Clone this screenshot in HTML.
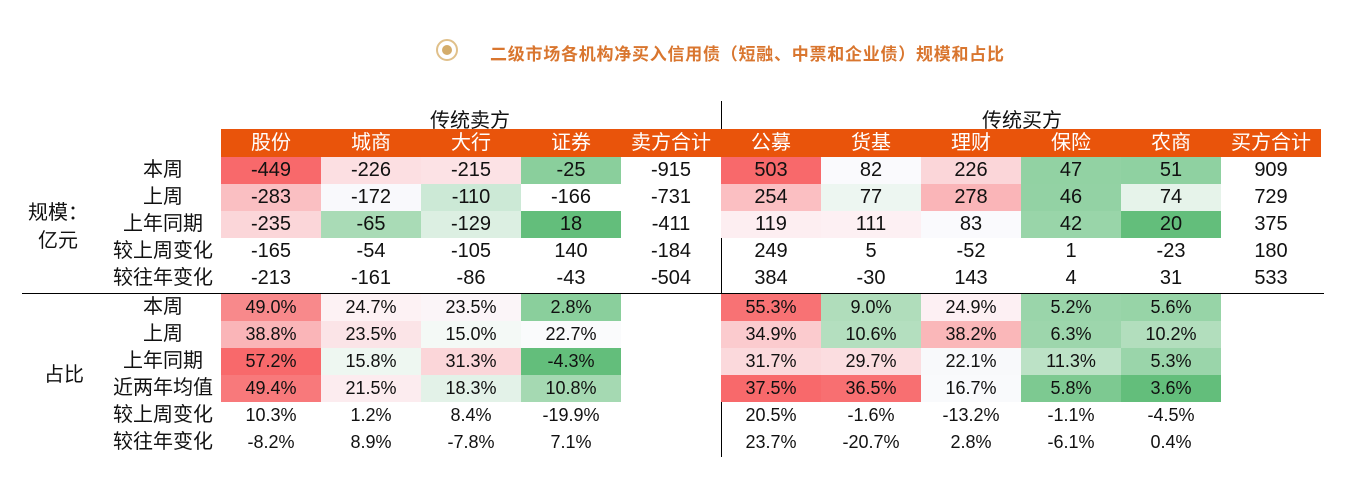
<!DOCTYPE html>
<html><head><meta charset="utf-8"><style>
body{margin:0;width:1359px;height:486px;background:#fff;position:relative;overflow:hidden;font-family:"Liberation Sans","Noto Sans CJK SC",sans-serif;color:#111}
.title{position:absolute;left:490px;top:40px;font-size:17px;letter-spacing:0.75px;font-weight:bold;color:#d9762f;white-space:nowrap}
.icon{position:absolute;left:436px;top:39px;width:22px;height:22px;border-radius:50%;border:2px solid #e0c08a;box-sizing:border-box}
.icon:after{content:"";position:absolute;left:4px;top:4px;width:10px;height:10px;border-radius:50%;background:#d4ac6a}
table{position:absolute;left:105px;border-collapse:collapse;table-layout:fixed}
td{padding:0;height:27px;text-align:center;font-size:20px;white-space:nowrap;line-height:27px}
td.l{width:116px}
td.c{width:100px}
tr.h td{background:#e9540b;color:#fff;height:28px;font-size:20px}
tr.h td.l,tr.h td.e{background:#fff}
.pct td{font-size:18px}
.grp{position:absolute;font-size:20px;text-align:center;line-height:28px}
.sub{position:absolute;top:104px;font-size:20px}
</style></head><body>
<div class="icon"></div>
<div class="title">二级市场各机构净买入信用债（短融、中票和企业债）规模和占比</div>
<div class="sub" style="left:430px">传统卖方</div>
<div class="sub" style="left:982px">传统买方</div>
<div style="position:absolute;left:721px;top:101px;width:1px;height:356px;background:#000"></div>
<div style="position:absolute;left:22px;top:293px;width:1302px;height:1px;background:#000"></div>
<div class="grp" style="left:28px;top:199px">规模：<br>亿元</div>
<div class="grp" style="left:44px;top:361px">占比</div>
<table style="top:129px">
<tr class="h"><td class="l"></td><td class="c">股份</td><td class="c">城商</td><td class="c">大行</td><td class="c">证券</td><td class="c">卖方合计</td><td class="c">公募</td><td class="c">货基</td><td class="c">理财</td><td class="c">保险</td><td class="c">农商</td><td class="c">买方合计</td></tr>
<tr><td>本周</td><td style="background:#f8696b">-449</td><td style="background:#fcdfe2">-226</td><td style="background:#fce2e5">-215</td><td style="background:#8acf9c">-25</td><td>-915</td><td style="background:#f8696b">503</td><td style="background:#fafafd">82</td><td style="background:#fbd6d9">226</td><td style="background:#92d2a3">47</td><td style="background:#8fd1a1">51</td><td>909</td></tr>
<tr><td>上周</td><td style="background:#fabfc2">-283</td><td style="background:#f9f9fc">-172</td><td style="background:#cce9d6">-110</td><td>-166</td><td>-731</td><td style="background:#fbbfc2">254</td><td style="background:#edf6f1">77</td><td style="background:#fab5b8">278</td><td style="background:#93d2a4">46</td><td style="background:#e6f3ea">74</td><td>729</td></tr>
<tr><td>上年同期</td><td style="background:#fbd6d9">-235</td><td style="background:#a9dbb6">-65</td><td style="background:#dcefe2">-129</td><td style="background:#63be7b">18</td><td>-411</td><td style="background:#fdeef1">119</td><td style="background:#fdf0f3">111</td><td style="background:#fafafd">83</td><td style="background:#99d5a9">42</td><td style="background:#63be7b">20</td><td>375</td></tr>
<tr><td>较上周变化</td><td>-165</td><td>-54</td><td>-105</td><td>140</td><td>-184</td><td>249</td><td>5</td><td>-52</td><td>1</td><td>-23</td><td>180</td></tr>
<tr><td>较往年变化</td><td>-213</td><td>-161</td><td>-86</td><td>-43</td><td>-504</td><td>384</td><td>-30</td><td>143</td><td>4</td><td>31</td><td>533</td></tr>
</table>
<table class="pct" style="top:294px">
<tr><td class="l" style="font-size:20px">本周</td><td class="c" style="background:#f8898b">49.0%</td><td class="c" style="background:#fdf2f4">24.7%</td><td class="c" style="background:#fbf5f8">23.5%</td><td class="c" style="background:#8acf9c">2.8%</td><td class="c"></td><td class="c" style="background:#f87274">55.3%</td><td class="c" style="background:#b0ddbb">9.0%</td><td class="c" style="background:#fdf0f3">24.9%</td><td class="c" style="background:#9ad5aa">5.2%</td><td class="c" style="background:#97d4a7">5.6%</td><td class="c"></td></tr>
<tr><td style="font-size:20px">上周</td><td style="background:#fab5b8">38.8%</td><td style="background:#fbe4e7">23.5%</td><td style="background:#f4f9f6">15.0%</td><td style="background:#fafbfc">22.7%</td><td></td><td style="background:#fbcbce">34.9%</td><td style="background:#b4dfbf">10.6%</td><td style="background:#fab7b9">38.2%</td><td style="background:#9dd6ac">6.3%</td><td style="background:#b2debd">10.2%</td><td></td></tr>
<tr><td style="font-size:20px">上年同期</td><td style="background:#f8696b">57.2%</td><td style="background:#eef7f1">15.8%</td><td style="background:#fbd6d9">31.3%</td><td style="background:#63be7b">-4.3%</td><td></td><td style="background:#fbd9dc">31.7%</td><td style="background:#fbdde0">29.7%</td><td style="background:#f8f9fb">22.1%</td><td style="background:#bce2c6">11.3%</td><td style="background:#9ad5aa">5.3%</td><td></td></tr>
<tr><td style="font-size:20px">近两年均值</td><td style="background:#f8797b">49.4%</td><td style="background:#fcecef">21.5%</td><td style="background:#e3f2e8">18.3%</td><td style="background:#a5d9b2">10.8%</td><td></td><td style="background:#f8696b">37.5%</td><td style="background:#f86f71">36.5%</td><td style="background:#f9fafc">16.7%</td><td style="background:#7dc991">5.8%</td><td style="background:#63be7b">3.6%</td><td></td></tr>
<tr><td style="font-size:20px">较上周变化</td><td>10.3%</td><td>1.2%</td><td>8.4%</td><td>-19.9%</td><td></td><td>20.5%</td><td>-1.6%</td><td>-13.2%</td><td>-1.1%</td><td>-4.5%</td><td></td></tr>
<tr><td style="font-size:20px">较往年变化</td><td>-8.2%</td><td>8.9%</td><td>-7.8%</td><td>7.1%</td><td></td><td>23.7%</td><td>-20.7%</td><td>2.8%</td><td>-6.1%</td><td>0.4%</td><td></td></tr>
</table>
</body></html>
